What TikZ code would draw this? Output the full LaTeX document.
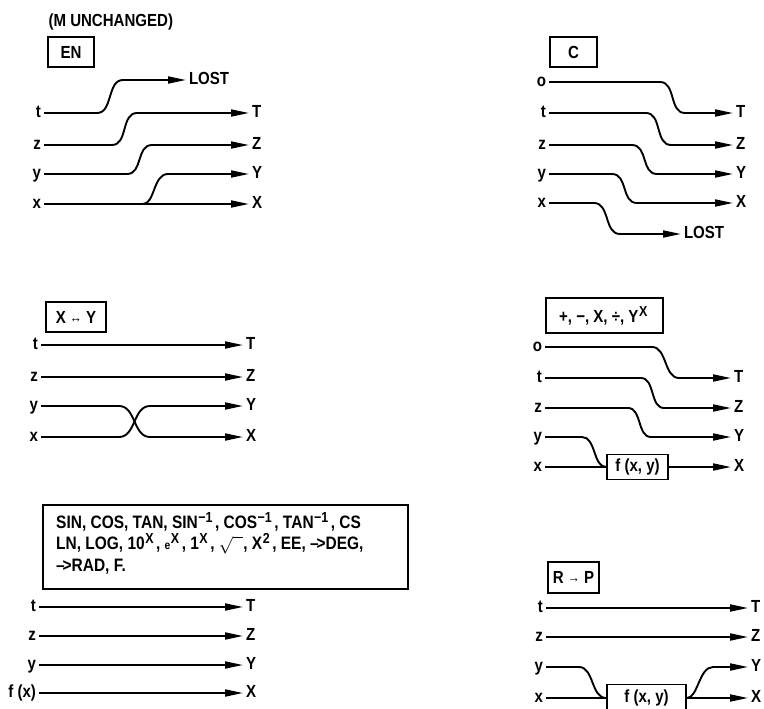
\documentclass[tikz,border=0pt]{standalone}
\usepackage{fontspec}
\setmainfont{Liberation Sans}[FakeStretch=0.86]
\usetikzlibrary{arrows.meta}
\newcommand{\supx}[1]{\kern0.5pt\raisebox{6pt}{\fontsize{14.5}{14.5}\selectfont #1}\kern2.5pt}
\begin{document}
\begin{tikzpicture}[x=1pt,y=-1pt,
  every node/.style={font=\fontsize{17.5}{21}\selectfont\bfseries},
  lbl/.style={inner sep=0pt,outer sep=3pt,text height=9pt,text depth=0pt},
  wire/.style={line width=1.9pt},
  arr/.style={wire,-{Triangle[length=18pt,width=7pt]}},
  keybox/.style={draw,line width=1.9pt,inner sep=0pt,minimum height=30pt},
  fbox/.style={draw,line width=1.9pt,inner sep=0pt,minimum height=25pt}]
\useasboundingbox (0,0) rectangle (764,709);

% ---------- Panel A: EN ----------
\node[anchor=west] (mun) at (45,22) {(M UNCHANGED)};
\node[keybox,minimum width=46pt] (en) at (71,52) {EN};
\node[lbl,anchor=east] (at) at (44,113) {t};
\node[lbl,anchor=east] (az) at (44,145) {z};
\node[lbl,anchor=east] (ay) at (44,174) {y};
\node[lbl,anchor=east] (ax) at (44,204) {x};
\node[lbl,anchor=west] (alost) at (186,80) {LOST};
\node[lbl,anchor=west] (aT) at (249,113) {T};
\node[lbl,anchor=west] (aZ) at (249,145) {Z};
\node[lbl,anchor=west] (aY) at (249,174) {Y};
\node[lbl,anchor=west] (aX) at (249,204) {X};
\coordinate (abr) at (143,204);
\draw[arr] (at.east) -- (97,113) .. controls (113,113) and (107,80) .. (123,80) -- (alost.west);
\draw[arr] (az.east) -- (112,145) .. controls (128,145) and (121,113) .. (137,113) -- (aT.west);
\draw[arr] (ay.east) -- (127,174) .. controls (143,174) and (136,145) .. (152,145) -- (aZ.west);
\draw[arr] (ax.east) -- (aX.west);
\draw[arr] (abr) .. controls (155,204) and (153,174) .. (168,174) -- (aY.west);

% ---------- Panel B: C ----------
\node[keybox,minimum width=47pt] (ck) at (573.5,52) {C};
\node[lbl,anchor=east] (bo) at (549,82) {o};
\node[lbl,anchor=east] (bt) at (549,113) {t};
\node[lbl,anchor=east] (bz) at (549,145) {z};
\node[lbl,anchor=east] (by) at (549,174) {y};
\node[lbl,anchor=east] (bx) at (549,203) {x};
\node[lbl,anchor=west] (bT) at (733,113) {T};
\node[lbl,anchor=west] (bZ) at (733,145) {Z};
\node[lbl,anchor=west] (bY) at (733,174) {Y};
\node[lbl,anchor=west] (bX) at (733,203) {X};
\node[lbl,anchor=west] (blost) at (681,234) {LOST};
\draw[arr] (bo.east) -- (660,82) .. controls (676,82) and (669,113) .. (685,113) -- (bT.west);
\draw[arr] (bt.east) -- (646,113) .. controls (662,113) and (655,145) .. (671,145) -- (bZ.west);
\draw[arr] (bz.east) -- (632,145) .. controls (648,145) and (641,174) .. (657,174) -- (bY.west);
\draw[arr] (by.east) -- (612,174) .. controls (628,174) and (621,203) .. (637,203) -- (bX.west);
\draw[arr] (bx.east) -- (594,203) .. controls (610,203) and (604,234) .. (620,234) -- (blost.west);

% ---------- Panel C: X <-> Y ----------
\node[keybox,minimum width=60pt] (xy) at (76,317) {X \raisebox{1pt}{\fontsize{14}{14}\selectfont↔} Y};
\node[lbl,anchor=east] (ct) at (41,345) {t};
\node[lbl,anchor=east] (cz) at (41,377) {z};
\node[lbl,anchor=east] (cy) at (41,406) {y};
\node[lbl,anchor=east] (cx) at (41,437) {x};
\node[lbl,anchor=west] (cT) at (243,345) {T};
\node[lbl,anchor=west] (cZ) at (243,377) {Z};
\node[lbl,anchor=west] (cY) at (243,406) {Y};
\node[lbl,anchor=west] (cX) at (243,437) {X};
\draw[arr] (ct.east) -- (cT.west);
\draw[arr] (cz.east) -- (cZ.west);
\draw[arr] (cy.east) -- (119,406) .. controls (136,406) and (133,437) .. (150,437) -- (cX.west);
\draw[arr] (cx.east) -- (119,437) .. controls (136,437) and (133,406) .. (150,406) -- (cY.west);

% ---------- Panel D: +, -, X, /, Y^X ----------
\node[keybox,minimum width=117pt,minimum height=35pt] (ar) at (604.5,315.5) {+, −, X, ÷, Y\supx{X}};
\node[lbl,anchor=east] (do) at (545,347) {o};
\node[lbl,anchor=east] (dt) at (545,378) {t};
\node[lbl,anchor=east] (dz) at (545,408) {z};
\node[lbl,anchor=east] (dy) at (545,437) {y};
\node[lbl,anchor=east] (dx) at (545,467) {x};
\node[lbl,anchor=west] (dT) at (731,378) {T};
\node[lbl,anchor=west] (dZ) at (731,408) {Z};
\node[lbl,anchor=west] (dY) at (731,437) {Y};
\node[lbl,anchor=west] (dX) at (731,467) {X};
\node[fbox,minimum width=61pt] (df) at (637.5,467) {f (x, y)};
\draw[arr] (do.east) -- (652,347) .. controls (667,347) and (664,378) .. (679,378) -- (dT.west);
\draw[arr] (dt.east) -- (641,378) .. controls (655,378) and (650,408) .. (664,408) -- (dZ.west);
\draw[arr] (dz.east) -- (628,408) .. controls (642,408) and (637,437) .. (651,437) -- (dY.west);
\draw[wire] (dy.east) -- (582,437) .. controls (596,437) and (593,467) .. (df.west);
\draw[wire] (dx.east) -- (df.west);
\draw[arr] (df.east) -- (dX.west);

% ---------- Panel E: functions ----------
\node[draw,line width=1.9pt,minimum width=365pt,minimum height=84pt,inner sep=0pt] (fn) at (225.5,547) {};
\node[anchor=north west,align=left,inner sep=0pt,font=\fontsize{18}{21.5}\selectfont\bfseries] (fntext) at (56,512)
{SIN, COS, TAN, SIN\supx{−1}, COS\supx{−1}, TAN\supx{−1}, CS\\
LN, LOG, 10\supx{X}, {\fontsize{12}{12}\selectfont e}\supx{X}, 1\supx{X}, $\sqrt{\phantom{n}}$, X\supx{2}, EE, –\kern-0.12em>DEG,\\
–\kern-0.12em>RAD, F.};
\node[lbl,anchor=east] (et) at (39,607) {t};
\node[lbl,anchor=east] (ez) at (39,636) {z};
\node[lbl,anchor=east] (ey) at (39,665) {y};
\node[lbl,anchor=east] (ef) at (39,693) {f (x)};
\node[lbl,anchor=west] (eT) at (243,607) {T};
\node[lbl,anchor=west] (eZ) at (243,636) {Z};
\node[lbl,anchor=west] (eY) at (243,665) {Y};
\node[lbl,anchor=west] (eX) at (243,693) {X};
\draw[arr] (et.east) -- (eT.west);
\draw[arr] (ez.east) -- (eZ.west);
\draw[arr] (ey.east) -- (eY.west);
\draw[arr] (ef.east) -- (eX.west);

% ---------- Panel F: R -> P ----------
\node[keybox,minimum width=51pt,minimum height=31pt] (rp) at (573.5,577.5) {R \raisebox{1pt}{\fontsize{14}{14}\selectfont→} P};
\node[lbl,anchor=east] (ft) at (546,608) {t};
\node[lbl,anchor=east] (fz) at (546,637) {z};
\node[lbl,anchor=east] (fy) at (546,667) {y};
\node[lbl,anchor=east] (fx) at (546,698) {x};
\node[lbl,anchor=west] (fT) at (748,608) {T};
\node[lbl,anchor=west] (fZ) at (748,637) {Z};
\node[lbl,anchor=west] (fY) at (748,667) {Y};
\node[lbl,anchor=west] (fX) at (748,698) {X};
\node[fbox,minimum width=79pt,minimum height=27pt] (ff) at (646.5,698) {f (x, y)};
\draw[arr] (ft.east) -- (fT.west);
\draw[arr] (fz.east) -- (fZ.west);
\draw[wire] (fy.east) -- (579,667) .. controls (594,667) and (591,698) .. (ff.west);
\draw[wire] (fx.east) -- (ff.west);
\draw[arr] (ff.east) -- (fX.west);
\draw[arr] (ff.east) .. controls (698,698) and (699,667) .. (713,667) -- (fY.west);
\end{tikzpicture}
\end{document}
